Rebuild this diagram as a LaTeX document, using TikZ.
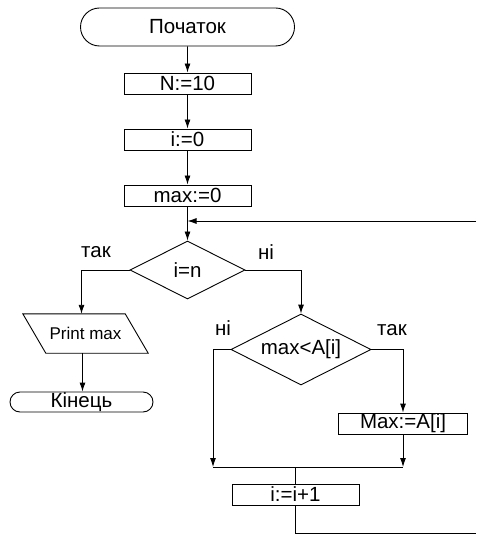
\documentclass[tikz,border=0pt]{standalone}
\usepackage{fontspec}
\setmainfont{Liberation Sans}
\usepackage{tikz}
\usetikzlibrary{shapes.geometric,shapes.misc,arrows.meta,positioning,calc}
\tikzset{
  term/.style={rounded rectangle,draw=black,line width=0.9pt,inner sep=0pt,
               font=\fontsize{20.5}{24}\selectfont},
  proc/.style={rectangle,draw=black,line width=0.9pt,minimum width=127pt,
               minimum height=21pt,inner sep=0pt,font=\fontsize{20.5}{24}\selectfont},
  cond/.style={diamond,aspect=2,draw=black,line width=0.9pt,inner sep=0pt,
               font=\fontsize{20.5}{24}\selectfont},
  io/.style={rectangle,inner sep=0pt,minimum width=102pt,minimum height=39pt,
             font=\fontsize{17}{20}\selectfont},
  lbl/.style={inner sep=0pt,anchor=base,font=\fontsize{20.5}{24}\selectfont},
  arr/.style={-{Latex[length=9pt,width=6pt]},draw=black,line width=0.9pt},
  ln/.style={draw=black,line width=0.9pt},
}
\begin{document}
\begin{tikzpicture}[x=1pt,y=-1pt]
  \useasboundingbox (0,0) rectangle (476,534);
  \node[term,minimum width=214pt,minimum height=38pt] (start) at (187.5,27) {Початок};
  \foreach \nm/\txt/\y in {n10/N:=10/83.5, i0/i:=0/139.5, max0/max:=0/195.5} {
    \node[proc] (\nm) at (187.5,\y) {\txt};
  }
  \node[cond,minimum width=115pt,minimum height=58pt] (ifn) at (187.5,270) {i=n};
  \node[io] (prn) at (85.5,333.5) {Print max};
  \draw[ln] ([xshift=-11.5pt]prn.north west) -- ([xshift=-11.5pt]prn.north east)
    -- ([xshift=11.5pt]prn.south east) -- ([xshift=11.5pt]prn.south west) -- cycle;
  \node[term,minimum width=143pt,minimum height=20pt] (fin) at (81.5,402) {Кінець};
  \node[cond,minimum width=140pt,minimum height=71pt] (ifmax) at (301,349.5) {max<A[i]};
  \node[proc,minimum width=129pt] (setmax) at (403,423.5) {Max:=A[i]};
  \node[proc] (inc) at (295.5,494.5) {i:=i+1};
  % labels
  \node[lbl] (yes1) at (96,257) {так};
  \node[lbl] (no1) at (266,259) {ні};
  \node[lbl] (no2) at (223,335) {ні};
  \node[lbl] (yes2) at (392,335) {так};
  % free ends and joins
  \coordinate (loopin) at (476,221);
  \coordinate (loopout) at (476,533);
  \coordinate (jl) at (213,467);
  \coordinate (jr) at (403,467);
  % connectors
  \draw[arr] (start) -- (n10);
  \draw[arr] (n10) -- (i0);
  \draw[arr] (i0) -- (max0);
  \draw[arr] (max0) -- (ifn);
  \draw[arr] (loopin) -- (loopin -| ifn.north);
  \draw[arr] (ifn.west) -| ([xshift=-4pt]prn.north);
  \draw[arr] ([xshift=-3pt]prn.south) -- ([xshift=-3pt]prn.south |- fin.north);
  \draw[arr] (ifn.east) -| (ifmax.north);
  \draw[arr] (ifmax.west) -| (jl);
  \draw[arr] (ifmax.east) -| (setmax.north);
  \draw[arr] (setmax.south) -- (jr);
  \draw[ln] (jl) -- (jr);
  \draw[ln] (inc.north |- jl) -- (inc.north);
  \draw[ln] (inc.south) |- (loopout);
\end{tikzpicture}
\end{document}
